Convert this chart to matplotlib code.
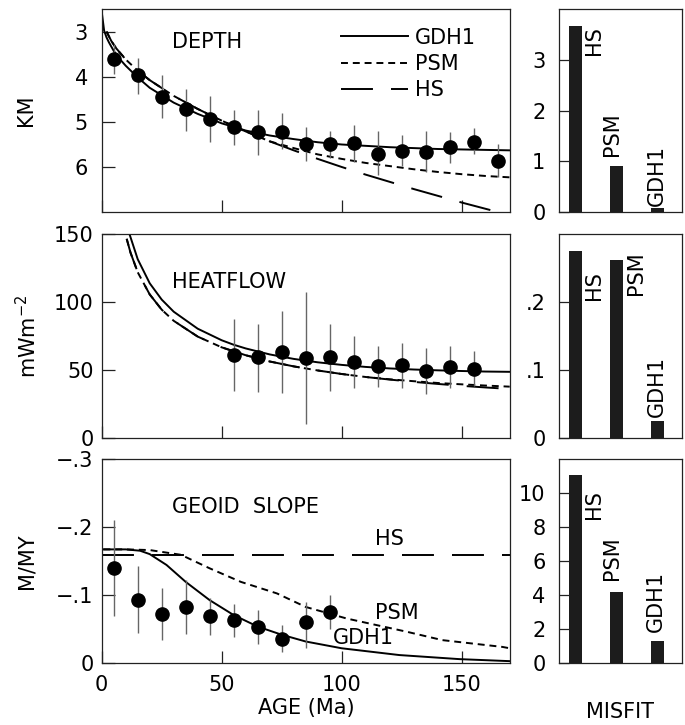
import matplotlib
matplotlib.use('Agg')
import matplotlib.pyplot as plt
from matplotlib.lines import Line2D

plt.rcParams['font.family'] = ['DejaVu Sans']
plt.rcParams['font.size'] = 15
plt.rcParams['lines.scale_dashes'] = False

# ---- depth panel ----
obs_age = [5, 15, 25, 35, 45, 55, 65, 75, 85, 95, 105, 115, 125, 135, 145, 155, 165]
depth_obs = [3.60, 3.96, 4.44, 4.72, 4.94, 5.12, 5.22, 5.22, 5.50, 5.50, 5.47, 5.71, 5.64, 5.66, 5.56, 5.44, 5.86]
depth_lo = [3.27, 3.58, 3.96, 4.27, 4.43, 4.74, 4.74, 4.81, 5.12, 5.19, 5.07, 5.19, 5.30, 5.19, 5.23, 5.14, 5.49]
depth_hi = [3.93, 4.37, 4.92, 5.19, 5.45, 5.51, 5.73, 5.60, 5.86, 5.80, 5.89, 6.18, 5.97, 6.11, 5.91, 5.71, 6.23]

gdh1_d_age = [0, 1, 2, 3, 5, 7.5, 10, 15, 20, 30, 40, 50, 60, 70, 80, 90, 100, 110, 120, 130, 140, 150, 160, 170]
gdh1_d = [2.55, 2.97, 3.12, 3.23, 3.42, 3.60, 3.75, 4.01, 4.24, 4.57, 4.82, 5.03, 5.19, 5.30, 5.38, 5.45, 5.50, 5.53, 5.56, 5.58, 5.60, 5.61, 5.62, 5.63]
psm_d_age = [2, 4, 6, 10, 15, 20, 30, 40, 50, 60, 70, 80, 90, 100, 110, 120, 130, 140, 150, 160, 170]
psm_d = [2.99, 3.20, 3.36, 3.61, 3.86, 4.07, 4.42, 4.71, 4.97, 5.21, 5.43, 5.58, 5.72, 5.82, 5.91, 5.98, 6.05, 6.11, 6.16, 6.20, 6.23]
hs_d_age = [2, 4, 6, 10, 15, 20, 30, 40, 50, 60, 70, 80, 90, 100, 110, 120, 130, 140, 150, 160, 165]
hs_d = [2.99, 3.20, 3.36, 3.61, 3.86, 4.07, 4.42, 4.71, 4.97, 5.21, 5.43, 5.63, 5.82, 6.00, 6.17, 6.33, 6.49, 6.64, 6.79, 6.93, 7.00]

# ---- heat flow panel ----
hf_age = [55, 65, 75, 85, 95, 105, 115, 125, 135, 145, 155]
hf_obs = [61.3, 59.5, 63.7, 59.3, 59.5, 56.3, 53.2, 53.9, 49.7, 52.7, 50.7]
hf_lo = [35.0, 34.3, 33.5, 10.5, 35.0, 36.8, 37.9, 36.8, 32.6, 36.8, 38.7]
hf_hi = [87.5, 83.8, 93.6, 107.8, 83.8, 75.2, 67.9, 69.9, 66.2, 67.9, 64.2]

gdh1_q_age = [11.6, 15, 20, 25, 30, 40, 50, 55, 60, 70, 80, 90, 100, 110, 120, 130, 140, 150, 160, 170]
gdh1_q = [150, 131.7, 114.0, 102.0, 93.1, 80.6, 72.1, 68.8, 66.1, 61.7, 58.4, 55.9, 54.0, 52.5, 51.4, 50.6, 50.0, 49.5, 49.1, 48.9]
hs_q_age = [10.4, 12, 15, 20, 25, 30, 40, 50, 60, 70, 80, 90, 100, 110, 120, 130, 140, 150, 160, 170]
hs_q = [146.7, 136.5, 122.1, 105.8, 94.6, 86.4, 74.8, 66.9, 61.1, 56.5, 52.9, 49.9, 47.3, 45.1, 43.2, 41.5, 40.0, 38.6, 37.4, 36.3]
psm_q_age = [10.4, 12, 15, 20, 25, 30, 40, 50, 60, 70, 80, 90, 100, 110, 120, 130, 140, 150, 160, 170]
psm_q = [146.7, 136.5, 122.1, 105.8, 94.6, 86.4, 74.8, 66.9, 61.1, 56.5, 52.9, 49.9, 47.3, 45.1, 43.4, 42.0, 40.7, 39.7, 38.8, 38.0]

# ---- geoid slope panel ----
gs_age = [5, 15, 25, 35, 45, 55, 65, 75, 85, 95]
gs_obs = [-0.139, -0.092, -0.072, -0.082, -0.069, -0.063, -0.053, -0.035, -0.060, -0.075]
gs_lo = [-0.210, -0.142, -0.110, -0.122, -0.095, -0.087, -0.078, -0.055, -0.090, -0.100]
gs_hi = [-0.068, -0.043, -0.033, -0.042, -0.040, -0.038, -0.028, -0.016, -0.021, -0.050]

gdh1_g_age = [0.7, 10, 16, 20, 27, 35, 45, 55, 65, 75, 85, 100, 124, 149, 170]
gdh1_g = [-0.167, -0.167, -0.165, -0.160, -0.144, -0.119, -0.092, -0.070, -0.053, -0.041, -0.031, -0.021, -0.011, -0.005, -0.002]
psm_g_age = [0.7, 10, 20, 33, 45, 58, 73, 85, 102, 127, 142, 167, 170]
psm_g = [-0.167, -0.167, -0.166, -0.159, -0.139, -0.119, -0.102, -0.082, -0.065, -0.0455, -0.033, -0.023, -0.021]
hs_g_age = [0, 170]
hs_g = [-0.158, -0.158]

# ---- misfit bars ----
models = ['HS', 'PSM', 'GDH1']
misfit_depth = [3.67, 0.91, 0.07]
misfit_heat = [0.275, 0.262, 0.026]
misfit_geoid = [11.1, 4.16, 1.28]

PSM_DASH = (5, 3.5)
HS_DASH = (23, 13)
LW = 1.4
EDGE = '#222222'


def style_left(ax):
    ax.set_xlim(0, 170)
    ax.set_xticks([0, 50, 100, 150])
    ax.tick_params(direction='in', length=9, width=0.9, color=EDGE, pad=6)
    for s in ax.spines.values():
        s.set_linewidth(0.9)
        s.set_color(EDGE)


def obs(ax, x, y, lo, hi):
    ax.vlines(x, lo, hi, color='#666666', lw=1.0, zorder=2)
    ax.plot(x, y, 'o', color='black', ms=9.5, zorder=3)


fig = plt.figure(figsize=(6.85, 7.25), dpi=100)

L, W = 0.1485, 0.5956
R, RW = 0.8165, 0.1787
rows = [(0.7076, 0.2793), (0.3954, 0.2814), (0.0862, 0.2803)]

# depth
ax1 = fig.add_axes([L, rows[0][0], W, rows[0][1]])
ax1.plot(gdh1_d_age, gdh1_d, color='black', lw=LW)
ax1.plot(psm_d_age, psm_d, color='black', lw=LW, dashes=PSM_DASH)
ax1.plot(hs_d_age, hs_d, color='black', lw=LW, dashes=HS_DASH)
obs(ax1, obs_age, depth_obs, depth_lo, depth_hi)
style_left(ax1)
ax1.set_ylim(7, 2.5)
ax1.set_yticks([3, 4, 5, 6])
ax1.set_xticklabels([])
ax1.tick_params(axis='y', pad=10)
ax1.set_ylabel('KM')
ax1.yaxis.set_label_coords(-0.16, 0.5)
ax1.text(0.172, 0.84, 'DEPTH', transform=ax1.transAxes, va='center')
handles = [Line2D([], [], color='black', lw=LW),
           Line2D([], [], color='black', lw=LW, dashes=PSM_DASH),
           Line2D([], [], color='black', lw=LW, dashes=HS_DASH)]
ax1.legend(handles, ['GDH1', 'PSM', 'HS'], loc='upper left', bbox_to_anchor=(0.587, 0.91),
           frameon=False, borderpad=0, borderaxespad=0, handlelength=3.2,
           handletextpad=0.35, labelspacing=0.3)

# heat flow
ax2 = fig.add_axes([L, rows[1][0], W, rows[1][1]])
ax2.plot(gdh1_q_age, gdh1_q, color='black', lw=LW)
ax2.plot(psm_q_age, psm_q, color='black', lw=LW, dashes=PSM_DASH)
ax2.plot(hs_q_age, hs_q, color='black', lw=LW, dashes=HS_DASH)
obs(ax2, hf_age, hf_obs, hf_lo, hf_hi)
style_left(ax2)
ax2.set_ylim(0, 150)
ax2.set_yticks([0, 50, 100, 150])
ax2.set_xticklabels([])
ax2.set_ylabel(r'mWm$^{-2}$')
ax2.yaxis.set_label_coords(-0.15, 0.5)
ax2.text(0.172, 0.768, 'HEATFLOW', transform=ax2.transAxes, va='center')

# geoid slope
ax3 = fig.add_axes([L, rows[2][0], W, rows[2][1]])
ax3.plot(gdh1_g_age, gdh1_g, color='black', lw=LW)
ax3.plot(psm_g_age, psm_g, color='black', lw=LW, dashes=PSM_DASH)
ax3.plot(hs_g_age, hs_g, color='black', lw=LW, dashes=HS_DASH)
obs(ax3, gs_age, gs_obs, gs_lo, gs_hi)
style_left(ax3)
ax3.set_ylim(0, -0.3)
ax3.set_yticks([0, -0.1, -0.2, -0.3])
ax3.set_yticklabels(['0', '\u2212.1', '\u2212.2', '\u2212.3'])
ax3.tick_params(axis='x', pad=9)
ax3.set_ylabel('M/MY')
ax3.yaxis.set_label_coords(-0.16, 0.5)
ax3.text(0.172, 0.767, 'GEOID  SLOPE', transform=ax3.transAxes, va='center')
ax3.text(114, -0.182, 'HS', va='center')
ax3.text(114, -0.0736, 'PSM', va='center')
ax3.text(96.5, -0.0357, 'GDH1', va='center')

fig.text(0.4477, 0.024, 'AGE (Ma)', ha='center', va='center')
fig.text(0.905, 0.018, 'MISFIT', ha='center', va='center')

# misfit bars
bar_sets = [
    (misfit_depth, (0, 4), [0, 1, 2, 3], ['0', '1', '2', '3'],
     [(0.44, 3.67, 'top'), (0.88, 1.10, 'bottom'), (1.98, 0.12, 'bottom')]),
    (misfit_heat, (0, 0.3), [0, 0.1, 0.2], ['0', '.1', '.2'],
     [(0.45, 0.246, 'top'), (1.48, 0.2756, 'top'), (1.99, 0.0315, 'bottom')]),
    (misfit_geoid, (0, 12), [0, 2, 4, 6, 8, 10], ['0', '2', '4', '6', '8', '10'],
     [(0.45, 10.16, 'top'), (0.89, 4.86, 'bottom'), (1.96, 1.82, 'bottom')]),
]
for (vals, ylim, ticks, labels, txt), (y0, h) in zip(bar_sets, rows):
    bx = fig.add_axes([R, y0, RW, h])
    bx.bar(range(len(models)), vals, width=0.32, color='#1c1c1c')
    bx.set_xlim(-0.4, 2.6)
    bx.set_ylim(*ylim)
    bx.set_xticks([])
    bx.set_yticks(ticks)
    bx.set_yticklabels(labels)
    bx.tick_params(direction='in', length=7, width=0.9, color=EDGE, pad=10)
    for s in bx.spines.values():
        s.set_linewidth(0.9)
        s.set_color(EDGE)
    for name, (tx, ty, va) in zip(models, txt):
        bx.text(tx, ty, name, rotation=90, ha='center', va=va)

fig.savefig('out.png', dpi=100)
